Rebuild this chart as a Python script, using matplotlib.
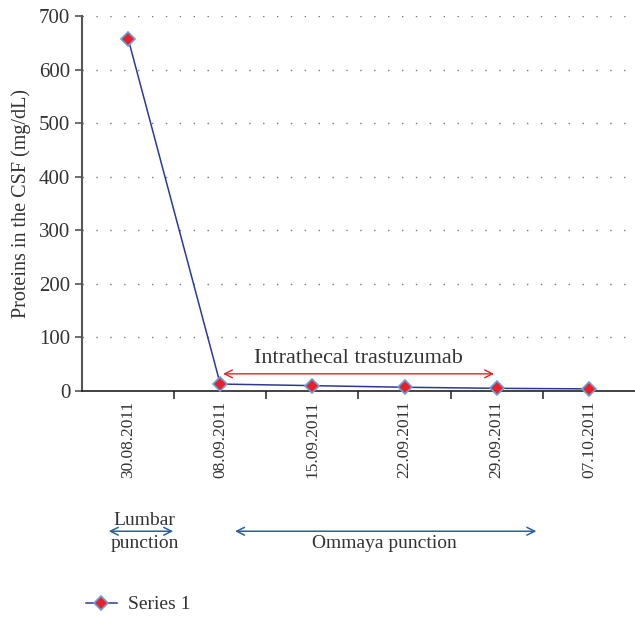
import matplotlib
matplotlib.use("Agg")
import matplotlib.pyplot as plt
from matplotlib.transforms import blended_transform_factory
import numpy as np

dates = ["30.08.2011", "08.09.2011", "15.09.2011", "22.09.2011", "29.09.2011", "07.10.2011"]
proteins = [658, 13, 10, 7, 5, 4]
y_ticks = [0, 100, 200, 300, 400, 500, 600, 700]

plt.rcParams['font.family'] = ['Liberation Serif', 'DejaVu Serif']
txt_col = '#333333'

fig = plt.figure(figsize=(6.35, 6.17), dpi=100)
ax = fig.add_axes([82 / 635, 1 - 391 / 617, 1 - 82 / 635, (391 - 16) / 617])

x = np.arange(len(dates))
ax.plot(x, proteins, color='#2b3a9a', linewidth=1.1, marker='D', markersize=7.5,
        markerfacecolor='#e8202a', markeredgecolor='#6aa0d8', markeredgewidth=1.2,
        label='Series 1', zorder=3, clip_on=False)

ax.set_xlim(-0.5, 5.5)
ax.set_ylim(0, 700)
ax.set_yticks(y_ticks)
ax.set_yticklabels([str(v) for v in y_ticks], fontsize=15, color=txt_col)
ax.set_ylabel("Proteins in the CSF (mg/dL)", fontsize=14.5, color=txt_col, labelpad=6)

ax.set_xticks(x)
ax.set_xticklabels(dates, rotation=90, fontsize=12.5, color=txt_col)
ax.set_xticks(np.arange(0.5, 5.5, 1.0), minor=True)
ax.tick_params(axis='x', which='major', length=0, pad=7)
ax.tick_params(axis='x', which='minor', length=6, width=1.2, direction='out', color=txt_col)
ax.tick_params(axis='y', length=5, width=1.2, color='#555555')

for s in ['top', 'right']:
    ax.spines[s].set_visible(False)
ax.spines['left'].set_color('#555555')
ax.spines['left'].set_linewidth(1.5)
ax.spines['bottom'].set_color('#222222')
ax.spines['bottom'].set_linewidth(1.2)

for v in y_ticks[1:]:
    ax.axhline(v, color='#777777', linewidth=1, linestyle=(0, (1, 9)), zorder=0)

# intrathecal arrow
ax.annotate('', xy=(1.0, 32), xytext=(4.0, 32),
            arrowprops=dict(arrowstyle='<->', color='#e8202a', lw=1.0, mutation_scale=14))
ax.text(2.5, 60, "Intrathecal trastuzumab", ha='center', va='center', fontsize=16, color=txt_col)

# puncture annotations below the axis
arrow_col = '#2f5f9a'
tr = blended_transform_factory(ax.transData, fig.transFigure)
ax.annotate('', xy=(-0.24, 0.139), xytext=(0.52, 0.139),
            xycoords=tr, textcoords=tr,
            arrowprops=dict(arrowstyle='<->', color=arrow_col, lw=1.1, mutation_scale=14))
ax.text(0.18, 0.157, "Lumbar", ha='center', va='center', fontsize=14, color=txt_col, transform=tr)
ax.text(0.18, 0.119, "punction", ha='center', va='center', fontsize=14, color=txt_col, transform=tr)
ax.annotate('', xy=(1.13, 0.139), xytext=(4.46, 0.139),
            xycoords=tr, textcoords=tr,
            arrowprops=dict(arrowstyle='<->', color=arrow_col, lw=1.1, mutation_scale=14))
ax.text(2.78, 0.119, "Ommaya punction", ha='center', va='center', fontsize=14, color=txt_col, transform=tr)

fig.legend(loc='center left', bbox_to_anchor=(68 / 635, 0.02), frameon=False,
           fontsize=14, handlelength=1.6, handletextpad=0.6, labelcolor=txt_col)

fig.savefig("out.png", dpi=100)
